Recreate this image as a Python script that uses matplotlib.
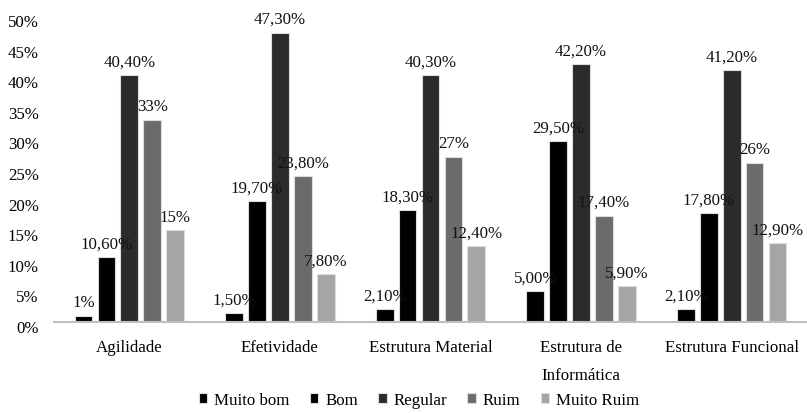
import matplotlib
matplotlib.use("Agg")
import matplotlib.pyplot as plt
import matplotlib.transforms as mtransforms
import numpy as np

plt.rcParams['font.family'] = ['Liberation Serif', 'DejaVu Serif']

categories = ["Agilidade", "Efetividade", "Estrutura Material",
              "Estrutura de\nInformática", "Estrutura Funcional"]
series = ["Muito bom", "Bom", "Regular", "Ruim", "Muito Ruim"]

# percentage labels as printed on the bars
muito_bom = ["1%", "1,50%", "2,10%", "5,00%", "2,10%"]
bom = ["10,60%", "19,70%", "18,30%", "29,50%", "17,80%"]
regular = ["40,40%", "47,30%", "40,30%", "42,20%", "41,20%"]
ruim = ["33%", "23,80%", "27%", "17,40%", "26%"]
muito_ruim = ["15%", "7,80%", "12,40%", "5,90%", "12,90%"]

colors = ["#000000", "#000000", "#2b2b2b", "#6b6b6b", "#a5a5a5"]


def to_value(s):
    return float(s.replace(',', '.').rstrip('%'))


fig = plt.figure(figsize=(8.07, 4.14), dpi=100)
ax = fig.add_axes([54 / 807, 91 / 414, 753 / 807, 306 / 414])

x = np.arange(len(categories))
pitch = 0.152
width = 0.118
for i, (labels, name, c) in enumerate(zip([muito_bom, bom, regular, ruim, muito_ruim], series, colors)):
    vals = [to_value(s) for s in labels]
    pos = x + (i - 2) * pitch
    bars = ax.bar(pos, vals, width, color=c, edgecolor='#dcdcdc', linewidth=0.8, label=name)
    for b, s in zip(bars, labels):
        ax.annotate(s, (b.get_x() + b.get_width() / 2, b.get_height()),
                    xytext=(0, 4), textcoords='offset points',
                    ha='center', va='bottom', fontsize=12.2, color='#111111')

ax.set_xlim(-0.5, len(categories) - 0.5)
ax.set_ylim(0, 50)
ax.set_yticks(np.arange(0, 51, 5))
ax.set_yticklabels(['%d%%' % v for v in range(0, 51, 5)], fontsize=12.2)
ax.set_xticks(x)
ax.set_xticklabels(categories, fontsize=12.2, linespacing=2.0)
ax.tick_params(axis='both', length=0)
ax.tick_params(axis='x', pad=12)
ax.tick_params(axis='y', pad=11)

# y labels sit a few pixels below their gridline positions
shift = mtransforms.ScaledTranslation(0, -4 / 100, fig.dpi_scale_trans)
for lbl in ax.get_yticklabels():
    lbl.set_transform(lbl.get_transform() + shift)

for side in ['top', 'right', 'left']:
    ax.spines[side].set_visible(False)
ax.spines['bottom'].set_color('#bfbfbf')
ax.spines['bottom'].set_linewidth(1.5)

fig.legend(loc='center', bbox_to_anchor=(419 / 807, 1 - 401 / 414), ncol=5,
           frameon=False, fontsize=12.2, handlelength=0.5, handleheight=0.5,
           handletextpad=0.4, columnspacing=1.2)

fig.savefig('out.png', dpi=100)
